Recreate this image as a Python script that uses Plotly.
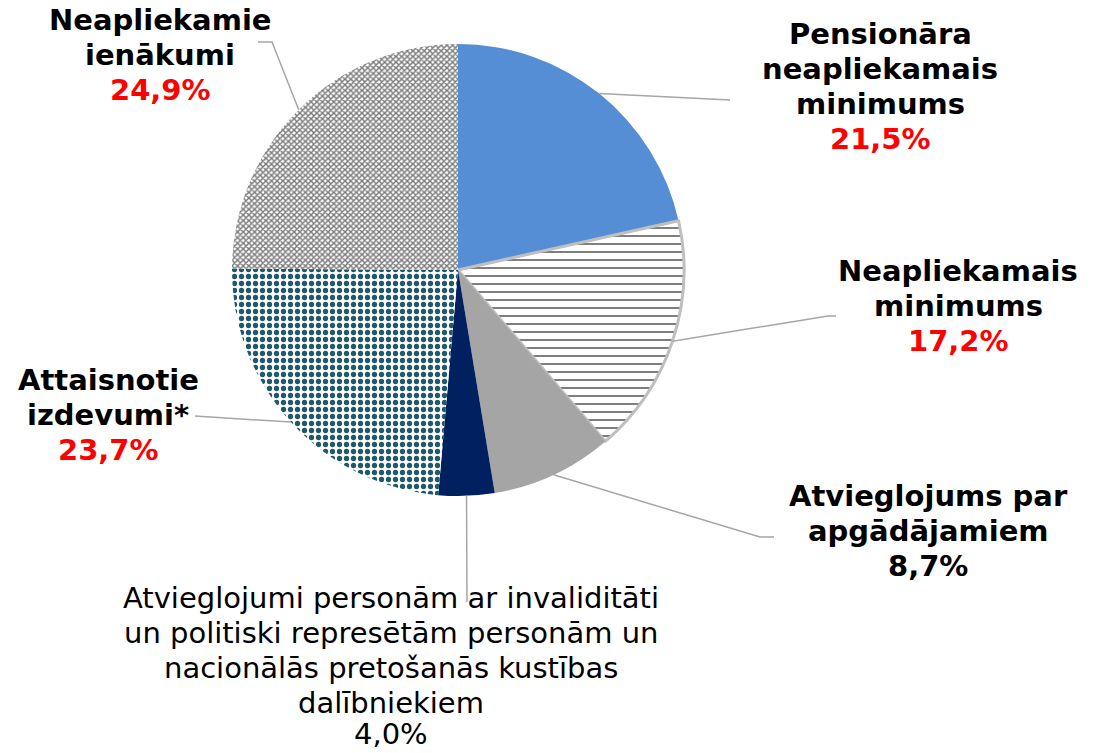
import math
import plotly.graph_objects as go

# ---- data ----
categories = [
    "Pensionāra neapliekamais minimums",
    "Neapliekamais minimums",
    "Atvieglojums par apgādājamiem",
    "Atvieglojumi personām ar invaliditāti un politiski represētām personām un nacionālās pretošanās kustības dalībniekiem",
    "Attaisnotie izdevumi*",
    "Neapliekamie ienākumi",
]
values = [21.5, 17.2, 8.7, 4.0, 23.7, 24.9]
value_labels = ["21,5%", "17,2%", "8,7%", "4,0%", "23,7%", "24,9%"]
label_lines = [
    ["Pensionāra", "neapliekamais", "minimums"],
    ["Neapliekamais", "minimums"],
    ["Atvieglojums par", "apgādājamiem"],
    ["Atvieglojumi personām ar invaliditāti", "un politiski represētām personām un",
     "nacionālās pretošanās kustības", "dalībniekiem"],
    ["Attaisnotie", "izdevumi*"],
    ["Neapliekamie", "ienākumi"],
]

# ---- style ----
W, H = 1106, 753
CX, CY, R = 458, 270, 226
FONT = "DejaVu Sans"
FS = 29
STEP = 35
colors = ["#558ED5", "#FFFFFF", "#A5A5A5", "#002060", "#FFFFFF", "#FFFFFF"]
pat_shape = ["", "-", "", "", ".", "x"]
pat_fg = ["#558ED5", "#7F7F7F", "#A5A5A5", "#002060", "#215968", "#7A7A7A"]
pat_size = [8, 8, 8, 8, 7, 4]
pat_sol = [0.3, 0.25, 0.3, 0.3, 0.45, 0.6]
line_w = [0, 3, 0, 0, 0, 0]
bold = [True, True, True, False, True, True]
value_color = ["#FF0000", "#FF0000", "#000000", "#000000", "#FF0000", "#FF0000"]
# label block centre x and first-line y (pixels)
label_pos = [(880, 34), (958, 271), (928, 496), (391, 598), (108, 380), (160, 20)]
# leader line extra points after the slice edge point (pixels)
leader_pts = [
    [(730, 100)],
    [(828, 316), (836, 316)],
    [(760, 537), (774, 537)],
    [(467, 602)],
    [(195, 416)],
    [(272, 42), (258, 42)],
]


def px(x):
    return x / W


def py(y):
    return 1 - y / H


fig = go.Figure(go.Pie(
    labels=categories,
    values=values,
    sort=False,
    direction="clockwise",
    rotation=0,
    textinfo="none",
    hoverinfo="none",
    showlegend=False,
    marker=dict(
        colors=colors,
        line=dict(color="#BFBFBF", width=line_w),
        pattern=dict(shape=pat_shape, fgcolor=pat_fg, bgcolor=colors,
                     size=pat_size, solidity=pat_sol, fillmode="replace"),
    ),
    domain=dict(x=[px(CX - R), px(CX + R)], y=[py(CY + R), py(CY - R)]),
))

annotations = []
shapes = []
total = sum(values)
cum = 0.0
for i, v in enumerate(values):
    mid = (cum + v / 2) / total * 2 * math.pi
    cum += v
    sx = CX + R * math.sin(mid)
    sy = CY - R * math.cos(mid)
    pts = [(sx, sy)] + leader_pts[i]
    path = "M" + " L".join(f"{px(x):.5f},{py(y):.5f}" for x, y in pts)
    shapes.append(dict(type="path", xref="paper", yref="paper", path=path,
                       line=dict(color="#A6A6A6", width=1.5)))
    lx, ly = label_pos[i]
    lines = label_lines[i] + [value_labels[i]]
    for j, t in enumerate(lines):
        is_val = j == len(lines) - 1
        txt = f"<b>{t}</b>" if bold[i] else t
        yc = ly + j * STEP
        yanchor = "middle"
        ypos = py(yc)
        if yc + FS * 0.65 > H:  # keep the lowest line inside the page
            yanchor = "bottom"
            ypos = 0
        annotations.append(dict(
            x=px(lx), y=ypos, xref="paper", yref="paper",
            text=txt, showarrow=False, xanchor="center", yanchor=yanchor,
            font=dict(family=FONT, size=FS,
                      color=value_color[i] if is_val else "#000000"),
        ))

fig.update_layout(
    width=W, height=H,
    margin=dict(l=0, r=0, t=0, b=0),
    paper_bgcolor="white", plot_bgcolor="white",
    annotations=annotations, shapes=shapes,
)
fig.write_html(
    "out.html",
    config={"displayModeBar": False},
    post_script="document.body.style.margin='0';document.body.style.overflow='hidden';",
)
